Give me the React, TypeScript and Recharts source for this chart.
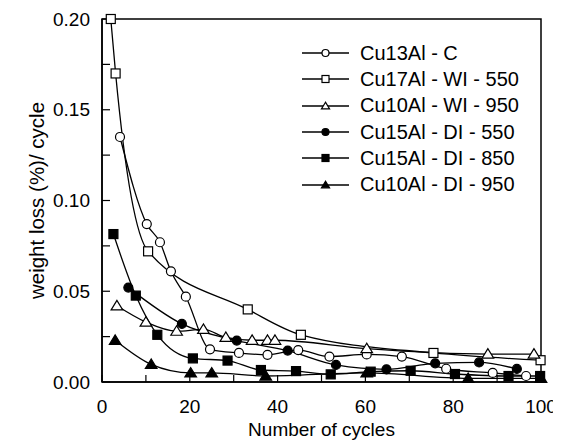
import { Label, Legend, Line, LineChart, ReferenceArea, XAxis, YAxis } from 'recharts';

const fontFamily = '"Liberation Sans", Arial, sans-serif';

// cycles (x) and weight loss (%)/cycle (y) per sample
const cu13AlC_x = [4.1, 10.2, 13.2, 15.7, 19.1, 24.6, 31.2, 37.7, 44.7, 51.8, 60.3, 68.3, 78.4, 89, 96.6];
const cu13AlC_y = [0.135, 0.087, 0.077, 0.061, 0.047, 0.018, 0.016, 0.015, 0.0176, 0.014, 0.0152, 0.014, 0.0073, 0.005, 0.0033];

const cu17AlWI550_x = [2, 3.1, 10.5, 33.2, 45.3, 75.5, 99.9];
const cu17AlWI550_y = [0.2, 0.17, 0.072, 0.04, 0.026, 0.016, 0.012];

const cu10AlWI950_x = [3.4, 10, 17, 23.1, 28.2, 34.2, 37.7, 39.4, 60.3, 87.9, 98.4];
const cu10AlWI950_y = [0.042, 0.033, 0.028, 0.029, 0.0246, 0.023, 0.023, 0.023, 0.0184, 0.0154, 0.0154];

const cu15AlDI550_x = [6, 18.2, 30.7, 42.3, 53.3, 64.8, 75.9, 85.9, 94.5];
const cu15AlDI550_y = [0.052, 0.032, 0.0228, 0.0173, 0.0094, 0.007, 0.0103, 0.0108, 0.0072];

const cu15AlDI850_x = [2.6, 7.7, 12.6, 20.7, 28.6, 36.2, 44.2, 52.1, 61.2, 70.3, 80.4, 92.6, 99.8];
const cu15AlDI850_y = [0.0815, 0.0476, 0.026, 0.013, 0.0118, 0.0066, 0.006, 0.0042, 0.0057, 0.0062, 0.0044, 0.0033, 0.0033];

const cu10AlDI950_x = [3, 11.2, 20.2, 25, 37.3, 60.3, 83.4, 100];
const cu10AlDI950_y = [0.023, 0.0097, 0.005, 0.005, 0.0033, 0.005, 0.002, 0.002];

const xTicks = [0, 10, 20, 30, 40, 50, 60, 70, 80, 90, 100];
const yTicks = [0, 0.025, 0.05, 0.075, 0.1, 0.125, 0.15, 0.175, 0.2];

const toPoints = (xs: number[], ys: number[]) => xs.map((x, i) => ({ x, y: ys[i] }));

type Shape = 'circle' | 'square' | 'triangle';

const series: { name: string; shape: Shape; filled: boolean; data: { x: number; y: number }[] }[] = [
  { name: 'Cu13Al - C', shape: 'circle', filled: false, data: toPoints(cu13AlC_x, cu13AlC_y) },
  { name: 'Cu17Al - WI - 550', shape: 'square', filled: false, data: toPoints(cu17AlWI550_x, cu17AlWI550_y) },
  { name: 'Cu10Al - WI - 950', shape: 'triangle', filled: false, data: toPoints(cu10AlWI950_x, cu10AlWI950_y) },
  { name: 'Cu15Al - DI - 550', shape: 'circle', filled: true, data: toPoints(cu15AlDI550_x, cu15AlDI550_y) },
  { name: 'Cu15Al - DI - 850', shape: 'square', filled: true, data: toPoints(cu15AlDI850_x, cu15AlDI850_y) },
  { name: 'Cu10Al - DI - 950', shape: 'triangle', filled: true, data: toPoints(cu10AlDI950_x, cu10AlDI950_y) },
];

function marker(shape: Shape, filled: boolean, cx: number, cy: number, s: number, key?: string) {
  const fill = filled ? '#000' : '#fff';
  if (shape === 'circle') {
    return <circle key={key} cx={cx} cy={cy} r={s / 2} fill={fill} stroke="#000" strokeWidth={1.2} />;
  }
  if (shape === 'square') {
    return <rect key={key} x={cx - s / 2} y={cy - s / 2} width={s} height={s} fill={fill} stroke="#000" strokeWidth={1.2} />;
  }
  const h = s * 0.9;
  const pts = `${cx},${cy - h * 0.6} ${cx - s * 0.58},${cy + h * 0.45} ${cx + s * 0.58},${cy + h * 0.45}`;
  return <polygon key={key} points={pts} fill={fill} stroke="#000" strokeWidth={1.2} />;
}

function renderLegend() {
  return (
    <div style={{ fontFamily, fontSize: 20, color: '#000' }}>
      {series.map((s) => (
        <div key={s.name} style={{ display: 'flex', alignItems: 'center', height: 26.3 }}>
          <svg width={47} height={16} style={{ display: 'block' }}>
            <line x1={0} y1={8} x2={47} y2={8} stroke="#000" strokeWidth={1.3} />
            {marker(s.shape, s.filled, 23.5, 8, 7)}
          </svg>
          <span style={{ marginLeft: 11, whiteSpace: 'nowrap' }}>{s.name}</span>
        </div>
      ))}
    </div>
  );
}

export default function App() {
  return (
    <LineChart width={553} height={437} margin={{ top: 11, right: 20, left: 0, bottom: 0 }} style={{ fontFamily }}>
      <ReferenceArea x1={0} x2={100} y1={0} y2={0.2} fill="none" stroke="#000" strokeWidth={1.5} ifOverflow="extendDomain" />
      <XAxis
        dataKey="x"
        type="number"
        domain={[0, 100]}
        ticks={xTicks}
        interval={0}
        tickSize={-7}
        tickMargin={25}
        height={63}
        allowDuplicatedCategory={false}
        tickFormatter={(v: number) => (v % 20 === 0 ? String(v) : '')}
        axisLine={{ stroke: '#000', strokeWidth: 1.5 }}
        tickLine={{ stroke: '#000', strokeWidth: 1.2 }}
        tick={{ fill: '#000', fontSize: 19, fontFamily }}
      >
        <Label value="Number of cycles" position="insideBottom" offset={9} style={{ fill: '#000', fontSize: 19, fontFamily }} />
      </XAxis>
      <YAxis
        type="number"
        domain={[0, 0.2]}
        ticks={yTicks}
        interval={0}
        tickSize={-8}
        tickMargin={20}
        width={94}
        tickFormatter={(v: number) => (Math.round(v * 1000) % 50 === 0 ? v.toFixed(2) : '')}
        axisLine={{ stroke: '#000', strokeWidth: 1.5 }}
        tickLine={{ stroke: '#000', strokeWidth: 1.2 }}
        tick={{ fill: '#000', fontSize: 19, fontFamily }}
      >
        <Label
          value="weight loss (%)/ cycle"
          angle={-90}
          position="insideLeft"
          offset={29}
          style={{ fill: '#000', fontSize: 20.5, fontFamily, textAnchor: 'middle' }}
        />
      </YAxis>
      <Legend
        layout="vertical"
        align="center"
        verticalAlign="middle"
        content={renderLegend}
        wrapperStyle={{ left: 294, top: 32, width: 'auto' }}
      />
      {series.map((s) => (
        <Line
          key={s.name}
          name={s.name}
          data={s.data}
          dataKey="y"
          type="monotone"
          stroke="#000"
          strokeWidth={1.3}
          isAnimationActive={false}
          dot={(p: any) => marker(s.shape, s.filled, p.cx, p.cy, s.shape === 'triangle' ? 10 : 9, `${s.name}-${p.index}`)}
          activeDot={false}
        />
      ))}
    </LineChart>
  );
}
